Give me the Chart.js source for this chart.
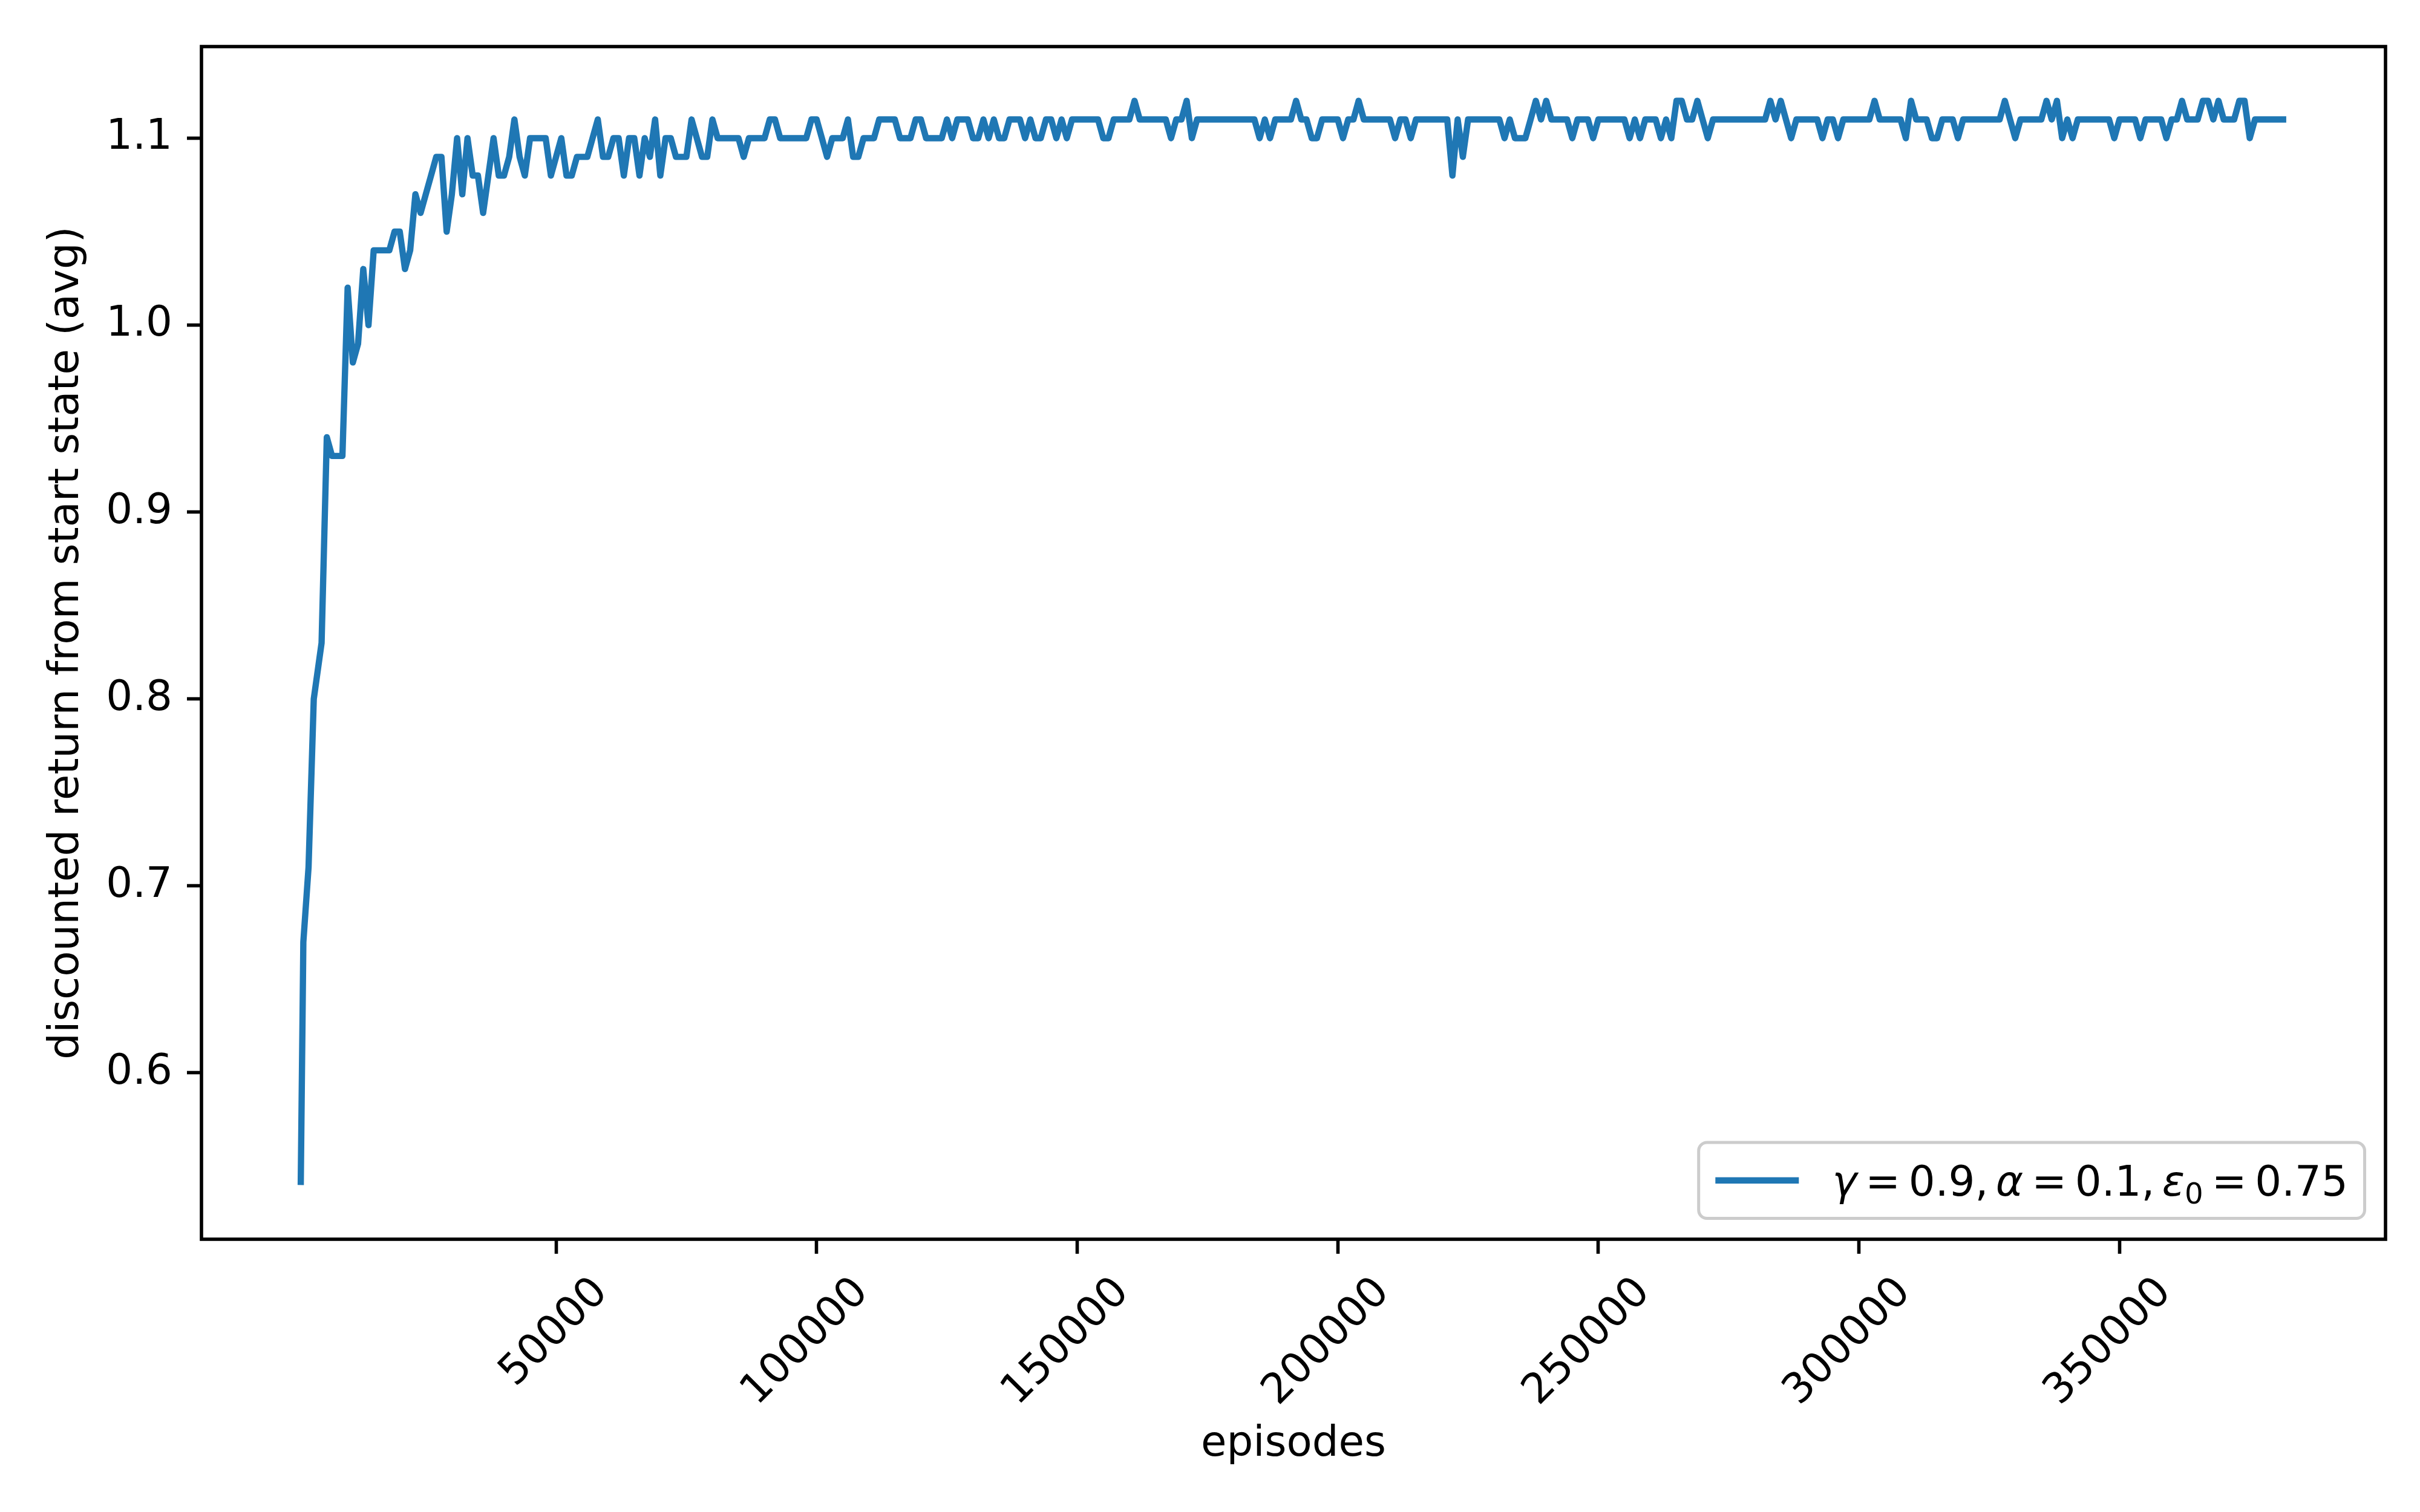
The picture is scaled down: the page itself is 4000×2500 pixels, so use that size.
<!DOCTYPE html>
<html>
<head>
<meta charset="utf-8">
<script src="https://cdn.jsdelivr.net/npm/chart.js@4.4.1/dist/chart.umd.min.js"></script>
<style>
  html, body { margin: 0; padding: 0; background: #ffffff; }
  canvas { display: block; }
</style>
</head>
<body>
<canvas id="returnChart" width="4000" height="2500"></canvas>
<script>
// episodes at which the greedy policy was evaluated
var episodes = [
  1000, 1500, 2500, 3500, 5000, 6000, 7000, 8000, 9000,
  10000, 11000, 12000, 13000, 14000, 15000, 16000, 17000, 18000, 19000,
  20000, 21000, 22000, 23000, 24000, 25000, 26000, 27000, 28000, 29000,
  30000, 31000, 32000, 33000, 34000, 35000, 36000, 37000, 38000, 39000,
  40000, 41000, 42000, 43000, 44000, 45000, 46000, 47000, 48000, 49000,
  50000, 51000, 52000, 53000, 54000, 55000, 56000, 57000, 58000, 59000,
  60000, 61000, 62000, 63000, 64000, 65000, 66000, 67000, 68000, 69000,
  70000, 71000, 72000, 73000, 74000, 75000, 76000, 77000, 78000, 79000,
  80000, 81000, 82000, 83000, 84000, 85000, 86000, 87000, 88000, 89000,
  90000, 91000, 92000, 93000, 94000, 95000, 96000, 97000, 98000, 99000,
  100000, 101000, 102000, 103000, 104000, 105000, 106000, 107000, 108000, 109000,
  110000, 111000, 112000, 113000, 114000, 115000, 116000, 117000, 118000, 119000,
  120000, 121000, 122000, 123000, 124000, 125000, 126000, 127000, 128000, 129000,
  130000, 131000, 132000, 133000, 134000, 135000, 136000, 137000, 138000, 139000,
  140000, 141000, 142000, 143000, 144000, 145000, 146000, 147000, 148000, 149000,
  150000, 151000, 152000, 153000, 154000, 155000, 156000, 157000, 158000, 159000,
  160000, 161000, 162000, 163000, 164000, 165000, 166000, 167000, 168000, 169000,
  170000, 171000, 172000, 173000, 174000, 175000, 176000, 177000, 178000, 179000,
  180000, 181000, 182000, 183000, 184000, 185000, 186000, 187000, 188000, 189000,
  190000, 191000, 192000, 193000, 194000, 195000, 196000, 197000, 198000, 199000,
  200000, 201000, 202000, 203000, 204000, 205000, 206000, 207000, 208000, 209000,
  210000, 211000, 212000, 213000, 214000, 215000, 216000, 217000, 218000, 219000,
  220000, 221000, 222000, 223000, 224000, 225000, 226000, 227000, 228000, 229000,
  230000, 231000, 232000, 233000, 234000, 235000, 236000, 237000, 238000, 239000,
  240000, 241000, 242000, 243000, 244000, 245000, 246000, 247000, 248000, 249000,
  250000, 251000, 252000, 253000, 254000, 255000, 256000, 257000, 258000, 259000,
  260000, 261000, 262000, 263000, 264000, 265000, 266000, 267000, 268000, 269000,
  270000, 271000, 272000, 273000, 274000, 275000, 276000, 277000, 278000, 279000,
  280000, 281000, 282000, 283000, 284000, 285000, 286000, 287000, 288000, 289000,
  290000, 291000, 292000, 293000, 294000, 295000, 296000, 297000, 298000, 299000,
  300000, 301000, 302000, 303000, 304000, 305000, 306000, 307000, 308000, 309000,
  310000, 311000, 312000, 313000, 314000, 315000, 316000, 317000, 318000, 319000,
  320000, 321000, 322000, 323000, 324000, 325000, 326000, 327000, 328000, 329000,
  330000, 331000, 332000, 333000, 334000, 335000, 336000, 337000, 338000, 339000,
  340000, 341000, 342000, 343000, 344000, 345000, 346000, 347000, 348000, 349000,
  350000, 351000, 352000, 353000, 354000, 355000, 356000, 357000, 358000, 359000,
  360000, 361000, 362000, 363000, 364000, 365000, 366000, 367000, 368000, 369000,
  370000, 371000, 372000, 373000, 374000, 375000, 376000, 377000, 378000, 379000,
  380000, 381000, 382000
];

// discounted return from the start state, averaged
var avgReturn = [
  0.54, 0.67, 0.71, 0.80, 0.83, 0.94, 0.93, 0.93, 0.93,
  1.02, 0.98, 0.99, 1.03, 1.00, 1.04, 1.04, 1.04, 1.04, 1.05,
  1.05, 1.03, 1.04, 1.07, 1.06, 1.07, 1.08, 1.09, 1.09, 1.05,
  1.07, 1.10, 1.07, 1.10, 1.08, 1.08, 1.06, 1.08, 1.10, 1.08,
  1.08, 1.09, 1.11, 1.09, 1.08, 1.10, 1.10, 1.10, 1.10, 1.08,
  1.09, 1.10, 1.08, 1.08, 1.09, 1.09, 1.09, 1.10, 1.11, 1.09,
  1.09, 1.10, 1.10, 1.08, 1.10, 1.10, 1.08, 1.10, 1.09, 1.11,
  1.08, 1.10, 1.10, 1.09, 1.09, 1.09, 1.11, 1.10, 1.09, 1.09,
  1.11, 1.10, 1.10, 1.10, 1.10, 1.10, 1.09, 1.10, 1.10, 1.10,
  1.10, 1.11, 1.11, 1.10, 1.10, 1.10, 1.10, 1.10, 1.10, 1.11,
  1.11, 1.10, 1.09, 1.10, 1.10, 1.10, 1.11, 1.09, 1.09, 1.10,
  1.10, 1.10, 1.11, 1.11, 1.11, 1.11, 1.10, 1.10, 1.10, 1.11,
  1.11, 1.10, 1.10, 1.10, 1.10, 1.11, 1.10, 1.11, 1.11, 1.11,
  1.10, 1.10, 1.11, 1.10, 1.11, 1.10, 1.10, 1.11, 1.11, 1.11,
  1.10, 1.11, 1.10, 1.10, 1.11, 1.11, 1.10, 1.11, 1.10, 1.11,
  1.11, 1.11, 1.11, 1.11, 1.11, 1.10, 1.10, 1.11, 1.11, 1.11,
  1.11, 1.12, 1.11, 1.11, 1.11, 1.11, 1.11, 1.11, 1.10, 1.11,
  1.11, 1.12, 1.10, 1.11, 1.11, 1.11, 1.11, 1.11, 1.11, 1.11,
  1.11, 1.11, 1.11, 1.11, 1.11, 1.10, 1.11, 1.10, 1.11, 1.11,
  1.11, 1.11, 1.12, 1.11, 1.11, 1.10, 1.10, 1.11, 1.11, 1.11,
  1.11, 1.10, 1.11, 1.11, 1.12, 1.11, 1.11, 1.11, 1.11, 1.11,
  1.11, 1.10, 1.11, 1.11, 1.10, 1.11, 1.11, 1.11, 1.11, 1.11,
  1.11, 1.11, 1.08, 1.11, 1.09, 1.11, 1.11, 1.11, 1.11, 1.11,
  1.11, 1.11, 1.10, 1.11, 1.10, 1.10, 1.10, 1.11, 1.12, 1.11,
  1.12, 1.11, 1.11, 1.11, 1.11, 1.10, 1.11, 1.11, 1.11, 1.10,
  1.11, 1.11, 1.11, 1.11, 1.11, 1.11, 1.10, 1.11, 1.10, 1.11,
  1.11, 1.11, 1.10, 1.11, 1.10, 1.12, 1.12, 1.11, 1.11, 1.12,
  1.11, 1.10, 1.11, 1.11, 1.11, 1.11, 1.11, 1.11, 1.11, 1.11,
  1.11, 1.11, 1.11, 1.12, 1.11, 1.12, 1.11, 1.10, 1.11, 1.11,
  1.11, 1.11, 1.11, 1.10, 1.11, 1.11, 1.10, 1.11, 1.11, 1.11,
  1.11, 1.11, 1.11, 1.12, 1.11, 1.11, 1.11, 1.11, 1.11, 1.10,
  1.12, 1.11, 1.11, 1.11, 1.10, 1.10, 1.11, 1.11, 1.11, 1.10,
  1.11, 1.11, 1.11, 1.11, 1.11, 1.11, 1.11, 1.11, 1.12, 1.11,
  1.10, 1.11, 1.11, 1.11, 1.11, 1.11, 1.12, 1.11, 1.12, 1.10,
  1.11, 1.10, 1.11, 1.11, 1.11, 1.11, 1.11, 1.11, 1.11, 1.10,
  1.11, 1.11, 1.11, 1.11, 1.10, 1.11, 1.11, 1.11, 1.11, 1.10,
  1.11, 1.11, 1.12, 1.11, 1.11, 1.11, 1.12, 1.12, 1.11, 1.12,
  1.11, 1.11, 1.11, 1.12, 1.12, 1.10, 1.11, 1.11, 1.11, 1.11,
  1.11, 1.11, 1.11
];

var xTicks = [50000, 100000, 150000, 200000, 250000, 300000, 350000];
var yTicks = [0.6, 0.7, 0.8, 0.9, 1.0, 1.1];

var seriesLabel = 'γ = 0.9, α = 0.1, ε₀ = 0.75';
// legend text pieces: text, style, space before (in em)
var legendTokens = [
  ['γ', 'italic', 0], ['=', 'normal', 0.2], ['0.9,', 'normal', 0.2],
  ['α', 'italic', 0.18], ['=', 'normal', 0.2], ['0.1,', 'normal', 0.2],
  ['ε', 'italic', 0.18], ['0', 'sub', 0], ['=', 'normal', 0.2], ['0.75', 'normal', 0.2]
];

var FONT = "'DejaVu Sans', sans-serif";
var FS = 69;   // 10pt at 500 dpi
var LINE_BLUE = '#1f77b4';

// black box round the plot area, like matplotlib spines
var mplFrame = {
  id: 'mplFrame',
  afterDraw: function (chart) {
    var a = chart.chartArea;
    var ctx = chart.ctx;
    ctx.save();
    ctx.strokeStyle = '#000000';
    ctx.lineWidth = 5.6;
    ctx.strokeRect(a.left, a.top, a.right - a.left, a.bottom - a.top);
    ctx.restore();
  }
};

// legend in the lower right corner of the plot area
var mplLegend = {
  id: 'mplLegend',
  afterDraw: function (chart) {
    var a = chart.chartArea;
    var ctx = chart.ctx;
    var ds = chart.data.datasets[0];
    var pad = 0.4 * FS, handle = 2 * FS, gap = 0.8 * FS, axPad = 0.5 * FS;

    ctx.save();
    var textW = 0;
    legendTokens.forEach(function (t) {
      ctx.font = (t[1] === 'italic' ? 'italic ' : '') + (t[1] === 'sub' ? FS * 0.7 : FS) + 'px ' + FONT;
      textW += t[2] * FS + ctx.measureText(t[0]).width;
    });

    var w = pad + handle + gap + textW + pad;
    var h = 2 * pad + 1.02 * FS;
    var x0 = a.right - axPad - w;
    var y0 = a.bottom - axPad - h;
    var r = 0.2 * FS;

    ctx.beginPath();
    ctx.moveTo(x0 + r, y0);
    ctx.arcTo(x0 + w, y0, x0 + w, y0 + h, r);
    ctx.arcTo(x0 + w, y0 + h, x0, y0 + h, r);
    ctx.arcTo(x0, y0 + h, x0, y0, r);
    ctx.arcTo(x0, y0, x0 + w, y0, r);
    ctx.closePath();
    ctx.fillStyle = 'rgba(255,255,255,0.8)';
    ctx.fill();
    ctx.strokeStyle = '#cccccc';
    ctx.lineWidth = 5;
    ctx.stroke();

    var cy = y0 + h / 2;
    ctx.beginPath();
    ctx.moveTo(x0 + pad, cy);
    ctx.lineTo(x0 + pad + handle, cy);
    ctx.strokeStyle = ds.borderColor;
    ctx.lineWidth = ds.borderWidth;
    ctx.lineCap = 'butt';
    ctx.stroke();

    var tx = x0 + pad + handle + gap;
    var base = cy + 0.36 * FS;
    ctx.fillStyle = '#000000';
    ctx.textBaseline = 'alphabetic';
    ctx.textAlign = 'left';
    legendTokens.forEach(function (t) {
      var sub = t[1] === 'sub';
      ctx.font = (t[1] === 'italic' ? 'italic ' : '') + (sub ? FS * 0.7 : FS) + 'px ' + FONT;
      tx += t[2] * FS;
      ctx.fillText(t[0], tx, sub ? base + 0.2 * FS : base);
      tx += ctx.measureText(t[0]).width;
    });
    ctx.restore();
  }
};

var tickGrid = {
  display: true,
  drawOnChartArea: false,
  drawTicks: true,
  tickLength: 24,
  tickWidth: 5.6,
  tickColor: '#000000'
};

var ctx = document.getElementById('returnChart').getContext('2d');

var returnChart = new Chart(ctx, {
  type: 'line',
  data: {
    datasets: [{
      label: seriesLabel,
      data: episodes.map(function (ep, i) { return { x: ep, y: avgReturn[i] }; }),
      borderColor: LINE_BLUE,
      borderWidth: 10.4,
      borderJoinStyle: 'round',
      borderCapStyle: 'butt',
      pointRadius: 0,
      tension: 0,
      fill: false
    }]
  },
  options: {
    responsive: false,
    animation: false,
    devicePixelRatio: 1,
    layout: { padding: { top: 77, right: 57, left: 0, bottom: 0 } },
    plugins: {
      legend: { display: false },
      tooltip: { enabled: false }
    },
    scales: {
      x: {
        type: 'linear',
        min: -18050,
        max: 401050,
        afterBuildTicks: function (scale) {
          scale.ticks = xTicks.map(function (v) { return { value: v }; });
        },
        afterFit: function (scale) { scale.height = 451; },
        grid: tickGrid,
        border: { display: false },
        ticks: {
          color: '#000000',
          font: { family: FONT, size: FS },
          padding: 24,
          minRotation: 45,
          maxRotation: 45,
          autoSkip: false,
          labelOffset: 75,
          callback: function (v) { return String(v); }
        },
        title: {
          display: true,
          text: 'episodes',
          color: '#000000',
          font: { family: FONT, size: FS },
          padding: { top: 0, bottom: 70 }
        }
      },
      y: {
        type: 'linear',
        min: 0.511,
        max: 1.149,
        afterBuildTicks: function (scale) {
          scale.ticks = yTicks.map(function (v) { return { value: v }; });
        },
        afterFit: function (scale) { scale.width = 333; },
        grid: tickGrid,
        border: { display: false },
        ticks: {
          color: '#000000',
          font: { family: FONT, size: FS },
          padding: 24,
          callback: function (v) { return v.toFixed(1); }
        },
        title: {
          display: true,
          text: 'discounted return from start state (avg)',
          color: '#000000',
          font: { family: FONT, size: FS },
          padding: { top: 70, bottom: 0 }
        }
      }
    }
  },
  plugins: [mplFrame, mplLegend]
});
</script>
</body>
</html>
